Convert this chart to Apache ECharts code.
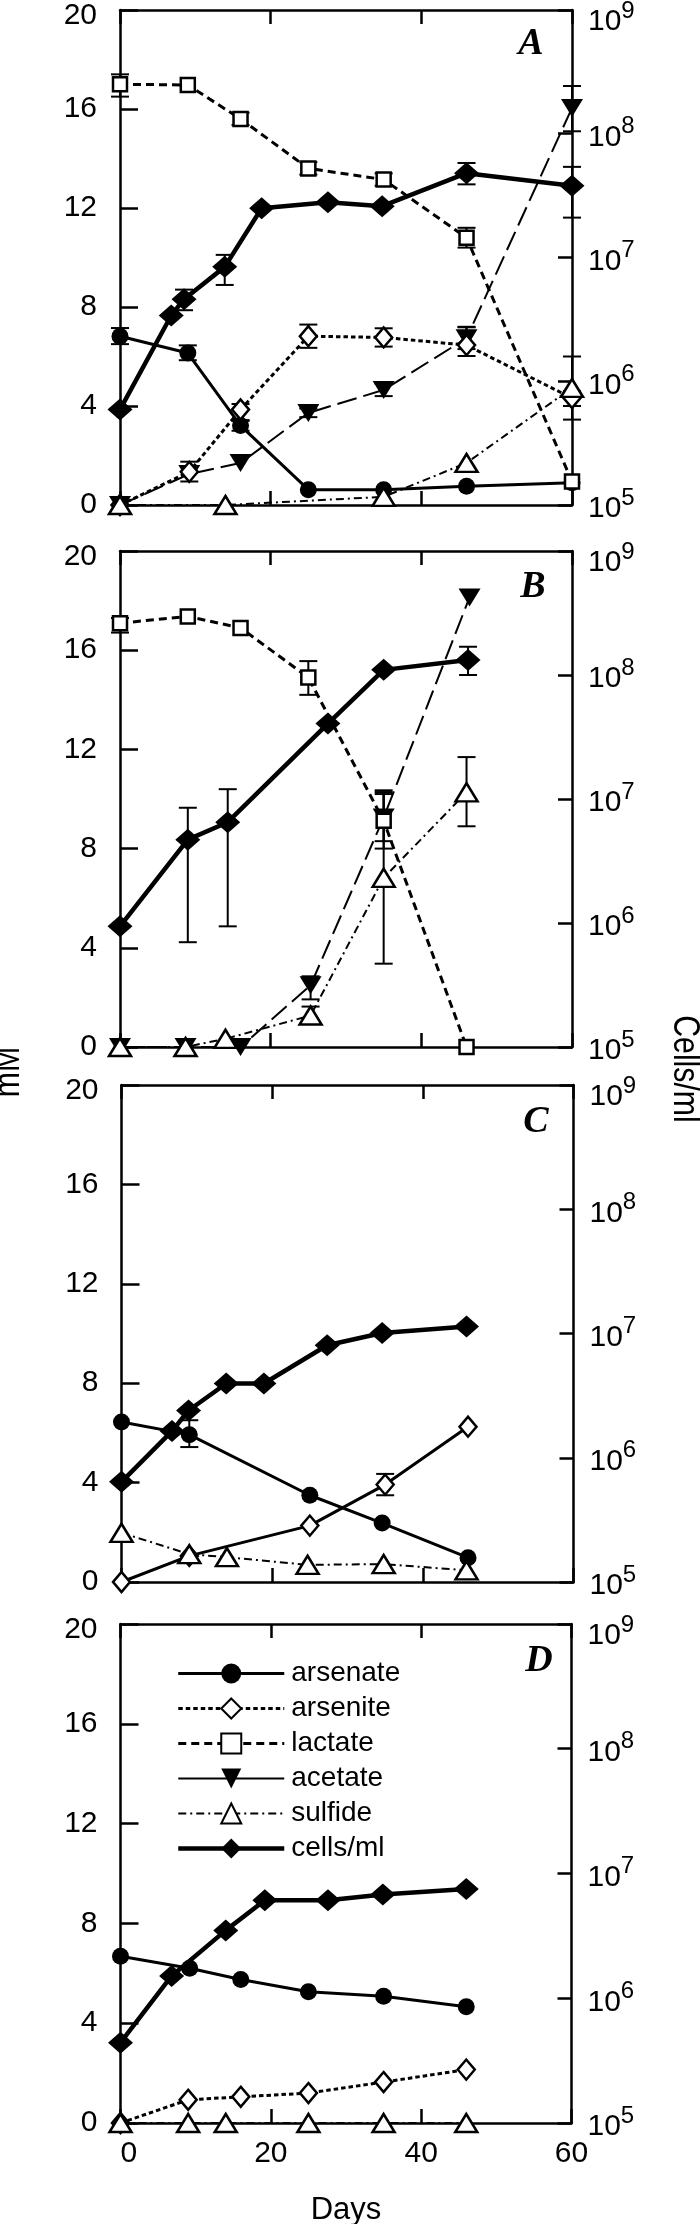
<!DOCTYPE html>
<html><head><meta charset="utf-8">
<script src="https://cdn.jsdelivr.net/npm/echarts@6/dist/echarts.min.js"></script>
<style>html,body{margin:0;padding:0;background:#fff}#c{width:700px;height:2224px}</style>
</head><body><div id="c"></div>
<script>
// ---------- DATA ----------
const seriesNames = ['arsenate', 'arsenite', 'lactate', 'acetate', 'sulfide', 'cells/ml'];
const panelLetters = ['A', 'B', 'C', 'D'];
const xTickValues = [0, 20, 40, 60];
const leftTickValues = [0, 4, 8, 12, 16, 20];
const rightTickExponents = [5, 6, 7, 8, 9];

// Panel A  ([day, mM] ; cells: [day, cells/ml]) ; errors: [day, low, high]
const A_arsenate = [[0, 6.82], [9, 6.14], [16, 3.21], [25, 0.62], [35, 0.62], [46, 0.76], [60, 0.9]];
const A_arsenite = [[0, 0], [9.2, 1.34], [16, 3.86], [25, 6.82], [35, 6.77], [46, 6.46], [60, 4.32]];
const A_lactate  = [[0, 17.0], [9, 16.97], [16, 15.6], [25, 13.6], [35, 13.15], [46, 10.8], [60, 0.95]];
const A_acetate  = [[0, 0], [9.2, 1.25], [16, 1.7], [25, 3.72], [35, 4.65], [46, 6.74], [60, 16.04]];
const A_sulfide  = [[0, 0], [14, 0], [35, 0.33], [46, 1.7], [60, 4.73]];
const A_cells    = [[0, 5.9e5], [6.8, 3.4e6], [8.5, 4.6e6], [13.9, 8.4e6], [18.8, 2.5e7], [27.6, 2.8e7], [34.8, 2.6e7], [46, 4.8e7], [60, 3.8e7]];
const A_errMM    = [[0, 16.5, 17.4], [16, 15.35, 15.85], [25, 13.35, 13.85], [35, 12.9, 13.4], [46, 10.4, 11.2],
                    [0, 6.5, 7.15], [9, 5.85, 6.45], [16, 3.0, 3.4],
                    [9.2, 0.95, 1.75], [16, 3.43, 4.08], [25, 6.35, 7.29], [35, 6.4, 7.14], [46, 6.02, 7.18], [60, 4.0, 4.6],
                    [25, 3.55, 3.9], [35, 4.4, 4.9], [46, 6.3, 7.2], [60, 15.1, 16.93],
                    [60, 3.45, 6.0]];
const A_errCells = [[8.5, 3.75e6, 5.5e6], [13.9, 6.0e6, 1.05e7], [46, 3.9e7, 5.8e7], [60, 2.1e7, 5.4e7]];

// Panel B
const B_lactate  = [[0, 17.09], [9, 17.36], [16, 16.9], [25, 14.9], [35, 9.12], [46, 0]];
const B_acetate  = [[0, 0], [8.7, 0], [16, 0], [25.3, 2.49], [35, 9.25], [46.4, 18.13]];
const B_sulfide  = [[0, 0], [8.7, 0], [14, 0.33], [25.3, 1.27], [35, 6.82], [46, 10.27]];
const B_cells    = [[0, 9.4e5], [9, 4.7e6], [14.3, 6.5e6], [27.6, 4.06e7], [35, 1.1e8], [46.2, 1.32e8]];
const B_errMM    = [[0, 16.71, 17.3], [25, 14.2, 15.56], [35, 8.0, 10.2],
                    [25.3, 1.92, 2.85], [35, 8.3, 10.35],
                    [25.3, 0.95, 1.63], [35, 3.36, 10.28], [46, 8.9, 11.69]];
const B_errCells = [[9, 7.0e5, 8.5e6], [14.3, 9.4e5, 1.2e7], [46.2, 1.0e8, 1.69e8]];

// Panel C
const C_arsenate = [[0, 6.44], [9, 5.93], [25, 3.49], [34.6, 2.37], [46, 0.98]];
const C_arsenite = [[0, 0], [9, 1.05], [25, 2.27], [35, 3.92], [46, 6.25]];
const C_sulfide  = [[0, 1.98], [9, 1.12], [14, 1.0], [24.7, 0.69], [34.8, 0.72], [45.8, 0.47]];
const C_cells    = [[0, 6.4e5], [6.7, 1.64e6], [8.9, 2.4e6], [13.9, 3.96e6], [18.9, 3.96e6], [27.3, 8.05e6], [34.6, 1.01e7], [45.8, 1.14e7]];
const C_errMM    = [[9, 5.43, 6.51], [35, 3.49, 4.35]];
const C_errCells = [];

// Panel D
const D_arsenate = [[0, 6.68], [9.2, 6.2], [16, 5.75], [25, 5.26], [35, 5.08], [46, 4.66]];
const D_arsenite = [[0, 0], [9, 0.93], [16, 1.05], [25, 1.2], [35, 1.64], [46, 2.14]];
const D_sulfide  = [[0, 0], [9, 0], [14, 0], [25, 0], [35, 0], [46, 0]];
const D_cells    = [[0, 4.4e5], [6.8, 1.51e6], [14, 3.5e6], [19.2, 6.1e6], [27.6, 6.1e6], [34.9, 6.8e6], [46, 7.5e6]];
const D_errMM    = [];
const D_errCells = [];

// ---------- build options ----------
const PANELS = [
  {arsenate: A_arsenate, arsenite: A_arsenite, lactate: A_lactate, acetate: A_acetate, sulfide: A_sulfide, 'cells/ml': A_cells, errMM: A_errMM, errCells: A_errCells},
  {lactate: B_lactate, acetate: B_acetate, sulfide: B_sulfide, 'cells/ml': B_cells, errMM: B_errMM, errCells: B_errCells},
  {arsenate: C_arsenate, arsenite: C_arsenite, sulfide: C_sulfide, 'cells/ml': C_cells, errMM: C_errMM, errCells: C_errCells},
  {arsenate: D_arsenate, arsenite: D_arsenite, sulfide: D_sulfide, 'cells/ml': D_cells, errMM: D_errMM, errCells: D_errCells}
];

const FONT = "'Liberation Sans Narrow','Arial Narrow','Liberation Sans',Arial,sans-serif";
const INK = '#000';
const TICK_FS = 30;
const GRIDS = [
  {left: 120, top: 10, width: 452, height: 495},
  {left: 120, top: 551, width: 452, height: 496},
  {left: 121.5, top: 1085, width: 452, height: 497},
  {left: 120.5, top: 1624, width: 451, height: 499}
];
const LETTER_POS = [[531, 44], [533, 587], [536, 1122], [539, 1661]];

const STY = {
  'arsenate': {symbol: 'circle', size: 17, fill: INK, lw: 3, dash: 'solid', z: 3},
  'arsenite': {symbol: 'diamond', size: [17, 20], fill: '#fff', lw: 3, dash: [4.5, 3], z: 4},
  'lactate':  {symbol: 'rect', size: 14, fill: '#fff', lw: 3, dash: [8, 5], z: 4},
  'acetate':  {symbol: 'triangle', rotate: 180, size: [22, 18], fill: INK, lw: 2, dash: [20, 7], z: 3},
  'sulfide':  {symbol: 'triangle', size: [22, 18], fill: '#fff', lw: 2, dash: [8, 4, 2, 4], z: 4},
  'cells/ml': {symbol: 'diamond', size: [25, 22], fill: INK, lw: 4.5, dash: 'solid', z: 5}
};

const grid = [], xAxis = [], yAxis = [], series = [];
const topMax = leftTickValues[leftTickValues.length - 1];
const topExp = rightTickExponents[rightTickExponents.length - 1];

GRIDS.forEach((g, gi) => {
  grid.push(Object.assign({outerBoundsMode: 'none', containLabel: false}, g));
  const isLast = gi === GRIDS.length - 1;
  ['bottom', 'top'].forEach(pos => {
    xAxis.push({
      gridIndex: gi, type: 'value', position: pos, min: xTickValues[0], max: xTickValues[xTickValues.length - 1], interval: 20,
      axisLine: {show: true, onZero: false, lineStyle: {color: INK, width: 2.5}},
      axisTick: {show: true, inside: true, length: 14, lineStyle: {color: INK, width: 2.5}},
      axisLabel: {show: isLast && pos === 'bottom', color: INK, fontFamily: FONT, fontSize: TICK_FS, margin: 16, alignMinLabel: 'left'},
      splitLine: {show: false},
      name: (isLast && pos === 'bottom') ? 'Days' : '',
      nameLocation: 'middle', nameGap: 72,
      nameTextStyle: {color: INK, fontFamily: FONT, fontSize: 31}
    });
  });
  yAxis.push({
    gridIndex: gi, type: 'value', position: 'left', min: leftTickValues[0], max: topMax, interval: 4,
    axisLine: {show: true, onZero: false, lineStyle: {color: INK, width: 2.5}},
    axisTick: {show: true, inside: true, length: 18, lineStyle: {color: INK, width: 2.5}},
    axisLabel: {
      margin: 23, fontSize: 10, lineHeight: 12, fontFamily: FONT, color: INK,
      formatter: v => (v === topMax ? '\n{n|' + v + '}' : '{n|' + v + '}'),
      rich: {
        n: {fontFamily: FONT, fontSize: TICK_FS, color: INK, lineHeight: 32}
      }
    },
    splitLine: {show: false}
  });
  yAxis.push({
    gridIndex: gi, type: 'log', logBase: 10, position: 'right',
    min: Math.pow(10, rightTickExponents[0]), max: Math.pow(10, topExp),
    axisLine: {show: true, onZero: false, lineStyle: {color: INK, width: 2.5}},
    axisTick: {show: true, inside: true, length: 14, lineStyle: {color: INK, width: 2.5}},
    axisLabel: {
      margin: 16, fontSize: 10, lineHeight: 16, fontFamily: FONT, color: INK,
      formatter: v => {
        const e = Math.round(Math.log10(v));
        return (e === topExp ? '\n' : '') + '{b|10}{s|' + e + '}';
      },
      rich: {
        b: {fontFamily: FONT, fontSize: TICK_FS, color: INK, lineHeight: 38, verticalAlign: 'bottom'},
        s: {fontFamily: FONT, fontSize: 24, color: INK, verticalAlign: 'top'}
      }
    },
    splitLine: {show: false}
  });

  const P = PANELS[gi];
  const errItem = (params, api) => {
    const x = api.value(0);
    const p1 = api.coord([x, api.value(1)]);
    const p2 = api.coord([x, api.value(2)]);
    const w = 9, st = {stroke: INK, lineWidth: 2};
    return {type: 'group', children: [
      {type: 'line', shape: {x1: p1[0], y1: p1[1], x2: p2[0], y2: p2[1]}, style: st},
      {type: 'line', shape: {x1: p1[0] - w, y1: p1[1], x2: p1[0] + w, y2: p1[1]}, style: st},
      {type: 'line', shape: {x1: p2[0] - w, y1: p2[1], x2: p2[0] + w, y2: p2[1]}, style: st}
    ]};
  };
  if (P.errMM.length) series.push({type: 'custom', xAxisIndex: gi * 2, yAxisIndex: gi * 2, data: P.errMM,
    renderItem: errItem, encode: {x: 0, y: [1, 2]}, clip: false, silent: true, z: 1});
  if (P.errCells.length) series.push({type: 'custom', xAxisIndex: gi * 2, yAxisIndex: gi * 2 + 1, data: P.errCells,
    renderItem: errItem, encode: {x: 0, y: [1, 2]}, clip: false, silent: true, z: 1});

  seriesNames.forEach(name => {
    if (!P[name]) return;
    const s = STY[name];
    let dash = s.dash;
    if (gi === 2 && name === 'arsenite') dash = 'solid';
    series.push({
      type: 'line', name: name, data: P[name],
      xAxisIndex: gi * 2, yAxisIndex: name === 'cells/ml' ? gi * 2 + 1 : gi * 2,
      symbol: s.symbol, symbolSize: s.size, symbolRotate: s.rotate || 0,
      showSymbol: true, showAllSymbol: true, clip: false, z: s.z,
      lineStyle: {color: INK, width: s.lw, type: dash},
      itemStyle: {color: s.fill, borderColor: INK, borderWidth: s.fill === '#fff' ? 2.5 : 0},
      emphasis: {disabled: true}, silent: true
    });
  });
});

const graphic = [];
panelLetters.forEach((L, i) => {
  graphic.push({type: 'text', x: LETTER_POS[i][0], y: LETTER_POS[i][1], silent: true,
    style: {text: L, fill: INK, fontFamily: "'Liberation Serif','Times New Roman',serif", fontSize: 38,
      fontWeight: 'bold', fontStyle: 'italic', align: 'center', verticalAlign: 'middle'}});
});
graphic.push({type: 'text', x: 9, y: 1072, rotation: Math.PI / 2, scaleX: 0.84, silent: true,
  style: {text: 'mM', fill: INK, fontFamily: FONT, fontSize: 36, align: 'center', verticalAlign: 'middle'}});
graphic.push({type: 'text', x: 684, y: 1069, rotation: -Math.PI / 2, scaleX: 0.84, silent: true,
  style: {text: 'Cells/ml', fill: INK, fontFamily: FONT, fontSize: 36, align: 'center', verticalAlign: 'middle'}});

const legendData = seriesNames.map(n => {
  const s = STY[n];
  return {name: n, lineStyle: {color: INK, width: s.lw, type: n === 'acetate' ? 'solid' : s.dash}};
});

const chart = echarts.init(document.getElementById('c'), null, {renderer: 'canvas'});
chart.setOption({
  animation: false,
  backgroundColor: '#fff',
  grid, xAxis, yAxis, series, graphic,
  legend: {
    data: legendData, orient: 'vertical', left: 171, top: 1651,
    itemWidth: 106, itemHeight: 25, itemGap: 0, selectedMode: false,
    textStyle: {color: INK, fontFamily: FONT, fontSize: 28, lineHeight: 35, padding: [0, 0, 0, 2]}
  }
});
</script></body></html>
